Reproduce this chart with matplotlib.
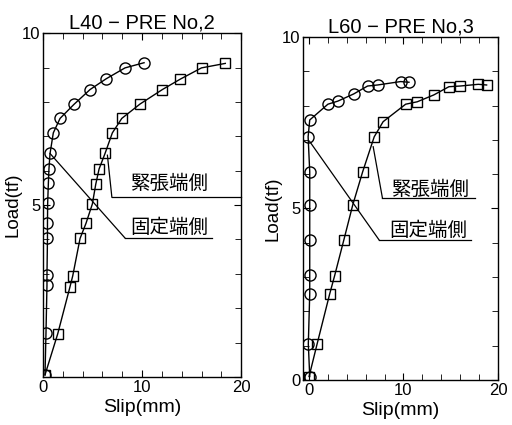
import numpy as np
import matplotlib
matplotlib.use('Agg')
import matplotlib.pyplot as plt
from matplotlib.ticker import MultipleLocator

plt.rcParams['font.family'] = ['Liberation Sans', 'DejaVu Sans']
jp = ['Noto Sans CJK JP', 'DejaVu Sans']

# L40 - PRE No,2
l40_circ_x = [0.2, 0.3, 0.4, 0.4, 0.45, 0.45, 0.47, 0.54, 0.6, 0.71, 1.04, 1.72, 3.13, 4.75, 6.36, 8.28, 10.2]
l40_circ_y = [0.06, 1.27, 2.67, 2.97, 4.03, 4.47, 5.05, 5.63, 6.05, 6.5, 7.1, 7.52, 7.93, 8.36, 8.67, 8.99, 9.14]
l40_sq_x = [0.2, 1.48, 2.73, 3.0, 3.74, 4.34, 4.98, 5.32, 5.66, 6.26, 7.0, 7.95, 9.8, 12.05, 13.84, 16.0, 18.4]
l40_sq_y = [0.06, 1.25, 2.63, 2.94, 4.03, 4.47, 5.03, 5.6, 6.05, 6.5, 7.1, 7.52, 7.94, 8.36, 8.66, 8.99, 9.12]

# L60 - PRE No,3
l60_circ_x = [0.1, -0.05, 0.1, 0.1, 0.1, 0.1, 0.1, -0.07, 0.1, 2.02, 3.07, 4.75, 6.21, 7.26, 9.7, 10.58]
l60_circ_y = [0.1, 1.05, 2.51, 3.06, 4.08, 5.1, 6.07, 7.09, 7.58, 8.04, 8.13, 8.34, 8.57, 8.6, 8.7, 8.68]
l60_sq_x = [0.03, 0.87, 2.2, 2.72, 3.7, 4.64, 5.69, 6.91, 7.85, 10.23, 11.45, 13.2, 14.8, 15.99, 17.9, 18.78]
l60_sq_y = [0.1, 1.04, 2.5, 3.03, 4.08, 5.1, 6.07, 7.09, 7.53, 8.04, 8.11, 8.31, 8.55, 8.57, 8.62, 8.6]

titles = ['L40 − PRE No,2', 'L60 − PRE No,3']
label_a = '緊張端側'
label_b = '固定端側'

fig = plt.figure(figsize=(5.12, 4.25), dpi=100)
ax1 = fig.add_axes([0.084, 0.113, 0.387, 0.809])
ax2 = fig.add_axes([0.592, 0.106, 0.381, 0.807])

panels = [
    (ax1, l40_circ_x, l40_circ_y, l40_sq_x, l40_sq_y, (0, 20),
     (0.71, 6.5), (6.5, 6.45), (8.28, 4.04, 17.1), (6.95, 5.23, 20.0), (12.7, 4.36), (12.7, 5.64)),
    (ax2, l60_circ_x, l60_circ_y, l60_sq_x, l60_sq_y, (-0.6, 20),
     (0.1, 6.95), (6.8, 6.8), (7.43, 4.08, 17.1), (7.78, 5.3, 17.6), (12.6, 4.37), (12.8, 5.54)),
]

for i, (ax, cx, cy, sx, sy, xl, pb, pa, ub, ua, tb, ta) in enumerate(panels):
    ax.plot(cx, cy, '-', color='black', lw=1.0, marker='o', ms=8,
            mfc='none', mec='black', mew=1.0)
    ax.plot(sx, sy, '-', color='black', lw=1.0, marker='s', ms=7.5,
            mfc='none', mec='black', mew=1.0)
    # leader lines
    ax.plot([pb[0], ub[0]], [pb[1], ub[1]], color='black', lw=0.9)
    ax.plot([ub[0], ub[2]], [ub[1], ub[1]], color='black', lw=0.9)
    ax.plot([pa[0], ua[0]], [pa[1], ua[1]], color='black', lw=0.9)
    ax.plot([ua[0], ua[2]], [ua[1], ua[1]], color='black', lw=0.9, clip_on=False)
    ax.text(tb[0], tb[1], label_b, family=jp, fontsize=14, ha='center', va='center')
    ax.text(ta[0], ta[1], label_a, family=jp, fontsize=14, ha='center', va='center')

    ax.set_xlim(*xl)
    ax.set_ylim(0, 10)
    ax.set_xticks([0, 10, 20])
    ax.set_yticks([0, 5, 10])
    ax.xaxis.set_minor_locator(MultipleLocator(2))
    ax.yaxis.set_minor_locator(MultipleLocator(1))
    ax.tick_params(which='both', direction='in', top=True, right=True, labelsize=12, pad=2)
    ax.tick_params(which='major', length=5)
    ax.tick_params(which='minor', length=4)
    ax.set_xlabel('Slip(mm)', fontsize=14, labelpad=3)
    ax.set_ylabel('Load(tf)', fontsize=13.5, labelpad=0)
    ax.set_title(titles[i], fontsize=14.5, pad=3)
    for s in ax.spines.values():
        s.set_linewidth(1.0)

ax1.set_yticklabels(['', '5', '10'])

plt.savefig('out.png', dpi=100)
